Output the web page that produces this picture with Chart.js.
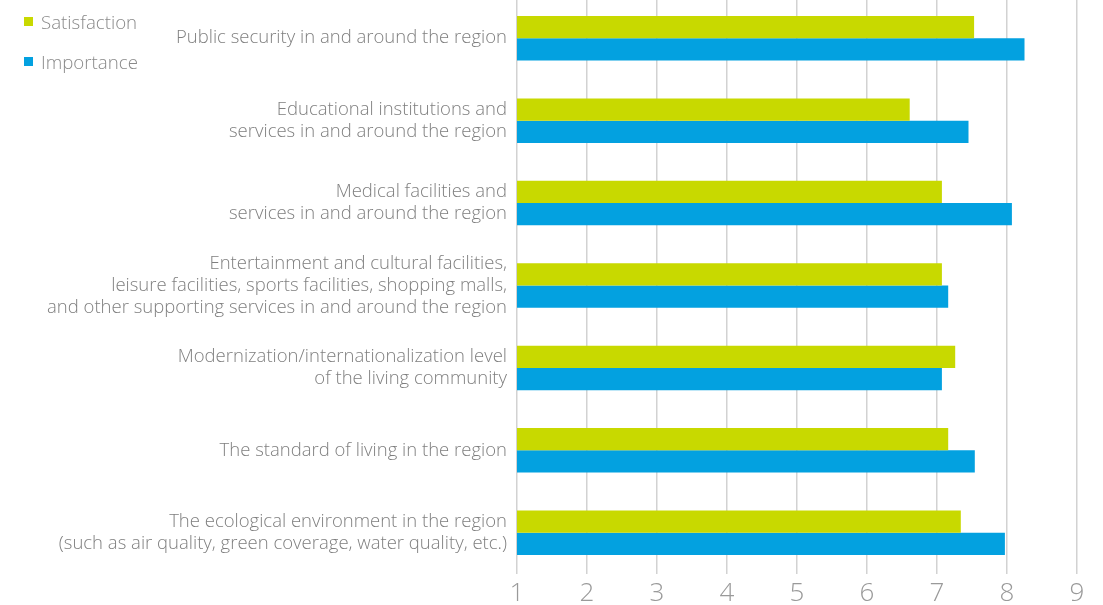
<!DOCTYPE html>
<html>
<head>
<meta charset="utf-8">
<script src="https://cdn.jsdelivr.net/npm/chart.js@4"></script>
<style>
  html, body { margin: 0; padding: 0; background: #fff; width: 1103px; height: 605px; overflow: hidden; }
  #wrap { position: absolute; left: 0; top: -3px; width: 1103px; height: 608px; }
  #legend { position: absolute; left: 24px; top: 8px; font-family: "Open Sans", sans-serif; font-weight: 300; font-size: 18.7px; color: #8a8a8a; }
  .item { display: flex; align-items: center; height: 26px; margin-bottom: 14px; }
  .sw { width: 9px; height: 9px; margin-right: 8px; }
</style>
</head>
<body>
<div id="wrap"><canvas id="c"></canvas></div>
<div id="legend"></div>
<script>
const categories = [
  ["Public security in and around the region"],
  ["Educational institutions and", "services in and around the region"],
  ["Medical facilities and", "services in and around the region"],
  ["Entertainment and cultural facilities,", "leisure facilities, sports facilities, shopping malls,", "and other supporting services in and around the region"],
  ["Modernization/internationalization level", "of the living community"],
  ["The standard of living in the region"],
  ["The ecological environment in the region", "(such as air quality, green coverage, water quality, etc.)"]
];
const seriesNames = ["Satisfaction", "Importance"];
const satisfaction = [7.53, 6.61, 7.07, 7.07, 7.26, 7.16, 7.34];
const importance   = [8.25, 7.45, 8.07, 7.16, 7.07, 7.54, 7.97];
const xTicks = [1, 2, 3, 4, 5, 6, 7, 8, 9];
const colors = ["#c8d900", "#03a1e0"];

const legend = document.getElementById('legend');
seriesNames.forEach((n, i) => {
  const d = document.createElement('div'); d.className = 'item';
  const s = document.createElement('div'); s.className = 'sw'; s.style.background = colors[i];
  const t = document.createElement('span'); t.textContent = n;
  d.appendChild(s); d.appendChild(t); legend.appendChild(d);
});

new Chart(document.getElementById('c'), {
  type: 'bar',
  data: {
    labels: categories,
    datasets: [
      { label: seriesNames[0], data: satisfaction, backgroundColor: colors[0], categoryPercentage: 0.54, barPercentage: 1.0 },
      { label: seriesNames[1], data: importance, backgroundColor: colors[1], categoryPercentage: 0.54, barPercentage: 1.0 }
    ]
  },
  options: {
    indexAxis: 'y',
    responsive: true,
    maintainAspectRatio: false,
    animation: false,
    layout: { padding: { left: 0, right: 26, top: 0, bottom: 0 } },
    plugins: { legend: { display: false }, tooltip: { enabled: false } },
    scales: {
      x: {
        min: 1, max: 9,
        afterBuildTicks: (s) => { s.ticks = xTicks.map(v => ({ value: v })); },
        afterFit: (s) => { s.height = 31; },
        grid: { color: '#d2d2d2', lineWidth: 1.5, drawTicks: false },
        border: { display: false },
        ticks: { padding: 7, color: '#9a9a9a', font: { family: 'Open Sans', size: 26, weight: 300, lineHeight: 1.0 } }
      },
      y: {
        grid: { display: false, drawTicks: false },
        border: { display: false },
        afterFit: (s) => { s.width = 517; s.paddingTop = 0; s.paddingBottom = 0; },
        ticks: { padding: 10, color: '#7f7f7f', font: { family: 'Open Sans', size: 18.5, weight: 300, lineHeight: 1.2 } }
      }
    }
  }
});
</script>
</body>
</html>
